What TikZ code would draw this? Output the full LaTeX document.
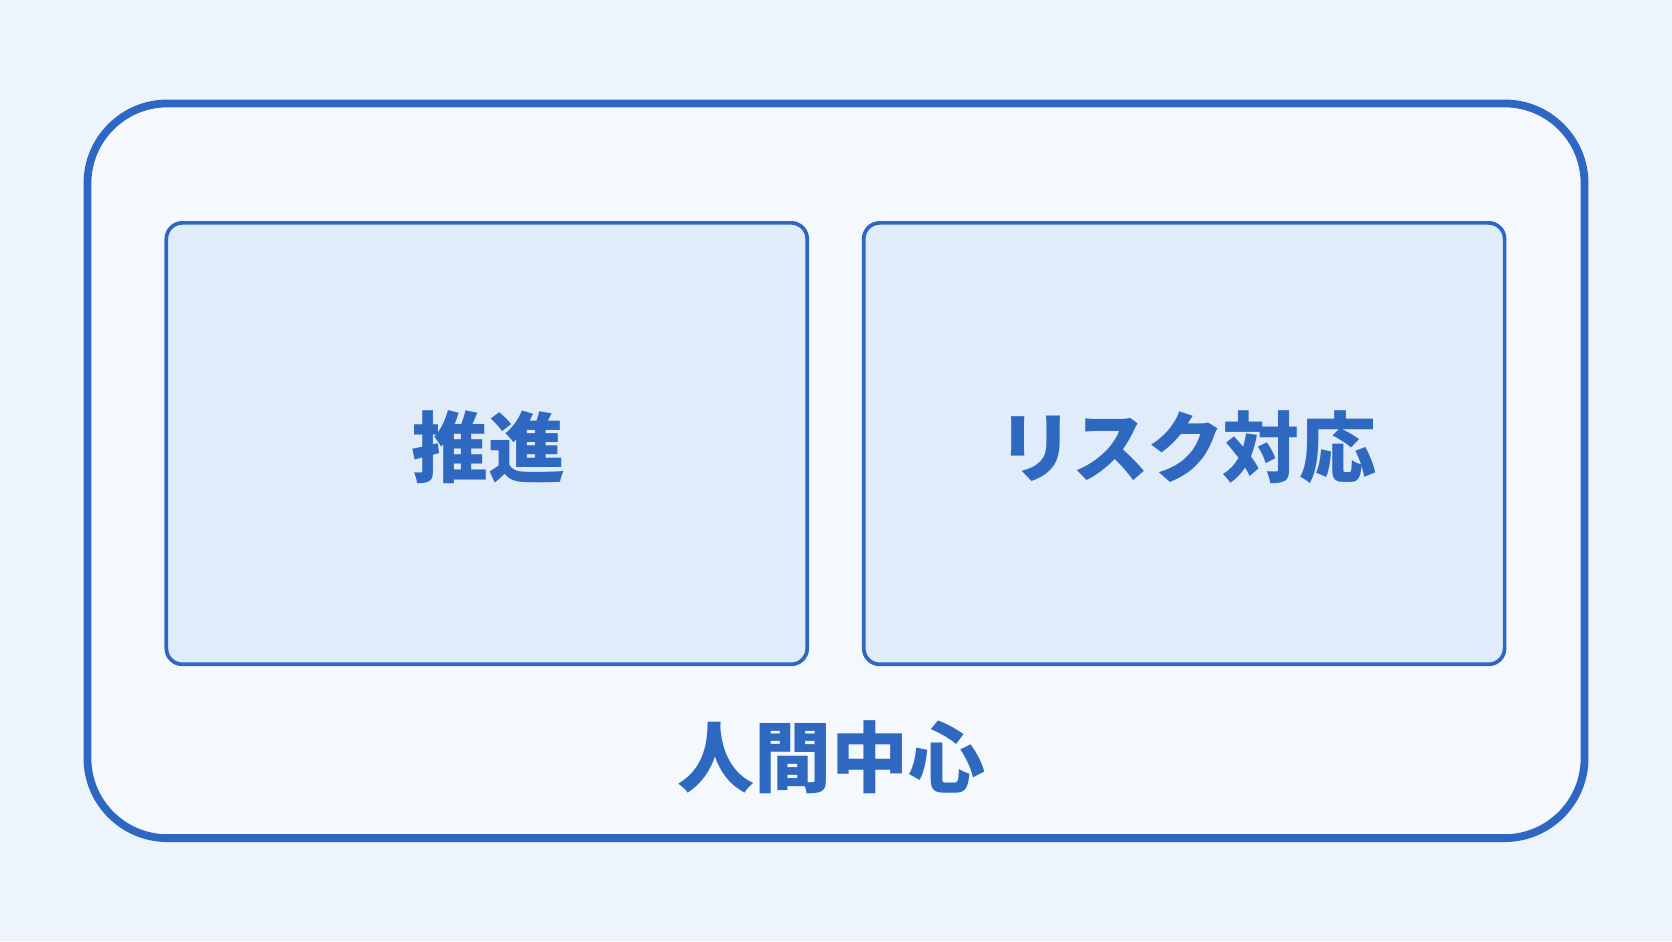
\documentclass[tikz,border=0pt]{standalone}
\usepackage{fontspec}
\newfontfamily\cjk{Noto Sans CJK JP}
\definecolor{bgc}{HTML}{EEF4FC}
\definecolor{outerfill}{HTML}{F5F8FD}
\definecolor{innerfill}{HTML}{E1ECFA}
\definecolor{strokec}{HTML}{2E67C3}
\definecolor{textc}{HTML}{2E68C0}
\tikzset{
  outerbox/.style={draw=strokec, line width=7.8pt, fill=outerfill, rounded corners=80pt},
  innerbox/.style={draw=strokec, line width=3.7pt, fill=innerfill, rounded corners=16pt},
  lbl/.style={text=textc, font=\cjk\bfseries\fontsize{77}{88}\selectfont, inner sep=0pt}
}
\begin{document}
\begin{tikzpicture}[x=1.0663pt,y=-1.0663pt]
\fill[bgc] (0,0) rectangle (1568,882.5);
\useasboundingbox (0,0) rectangle (1568,882.5);
\draw[outerbox] (82,97) rectangle (1486,786);
\draw[innerbox] (156,209) rectangle (757,623);
\draw[innerbox] (810,209) rectangle (1411,623);
\node[lbl] (a) at (458,419) {推進};
\node[lbl] (b) at (1113,419) {リ\kern-2ptス\kern-2ptク\kern-2pt対応};
\node[lbl] (c) at (780,710) {人間中心};
\end{tikzpicture}
\end{document}
